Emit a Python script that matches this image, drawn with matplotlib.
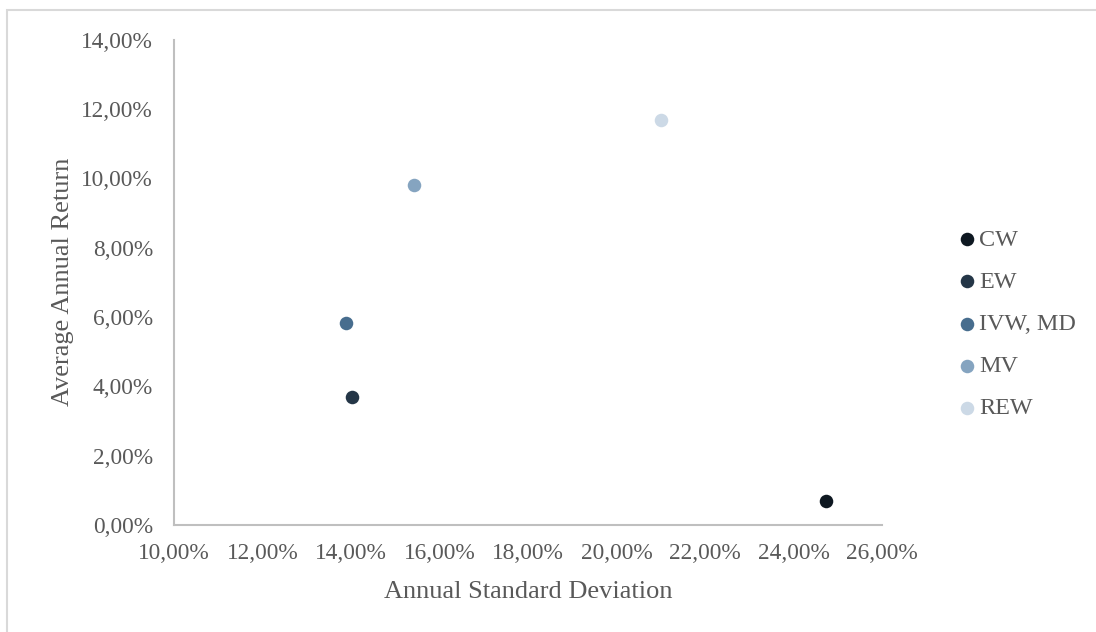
import matplotlib
matplotlib.use("Agg")
import matplotlib.pyplot as plt
from matplotlib.patches import Rectangle
from matplotlib.ticker import FuncFormatter, MultipleLocator

# Data (annual std dev %, average annual return %)
labels = ["CW", "EW", "IVW, MD", "MV", "REW"]
std_dev = [24.73, 14.02, 13.88, 15.43, 21.01]
avg_return = [0.69, 3.68, 5.82, 9.80, 11.67]
colors = ["#0e1821", "#243647", "#476d8e", "#85a4c0", "#ccd9e6"]

plt.rcParams["font.family"] = ["Liberation Serif", "DejaVu Serif"]
text_color = "#595959"

fig = plt.figure(figsize=(10.96, 6.32), dpi=100)
ax = fig.add_axes([174 / 1096, 1 - 525 / 632, 708 / 1096, 485.5 / 632])

for x, y, c, lab in zip(std_dev, avg_return, colors, labels):
    ax.scatter(x, y, s=95, color=c, label=lab, zorder=3, linewidths=0)

ax.set_xlim(10, 26)
ax.set_ylim(0, 14)
ax.xaxis.set_major_locator(MultipleLocator(2))
ax.yaxis.set_major_locator(MultipleLocator(2))
fmt = FuncFormatter(lambda v, p: f"{v:.2f}".replace(".", ",") + "%")
ax.xaxis.set_major_formatter(fmt)
ax.yaxis.set_major_formatter(fmt)
ax.tick_params(length=0, labelsize=16.8, labelcolor=text_color)
ax.tick_params(axis="y", pad=15)
ax.tick_params(axis="x", pad=13)

for s in ["top", "right"]:
    ax.spines[s].set_visible(False)
for s in ["left", "bottom"]:
    ax.spines[s].set_color("#bfbfbf")
    ax.spines[s].set_linewidth(1.5)

ax.set_xlabel("Annual Standard Deviation", fontsize=19, color=text_color, labelpad=12)
ax.set_ylabel("Average Annual Return", fontsize=19, color=text_color, labelpad=5)

leg = ax.legend(loc="center left", bbox_to_anchor=(945 / 1096, 1 - 324 / 632),
                bbox_transform=fig.transFigure, frameon=False, fontsize=17.4,
                handletextpad=0.0, labelspacing=0.84, borderaxespad=0,
                handlelength=1.0, markerscale=1.0)
for t in leg.get_texts():
    t.set_color(text_color)

# light outer border
fig.patches.append(Rectangle((7 / 1096, -0.05), 1.1, 1 - 10 / 632 + 0.05,
                             transform=fig.transFigure, fill=False,
                             edgecolor="#d9d9d9", linewidth=1.5))

fig.savefig("out.png", dpi=100)
